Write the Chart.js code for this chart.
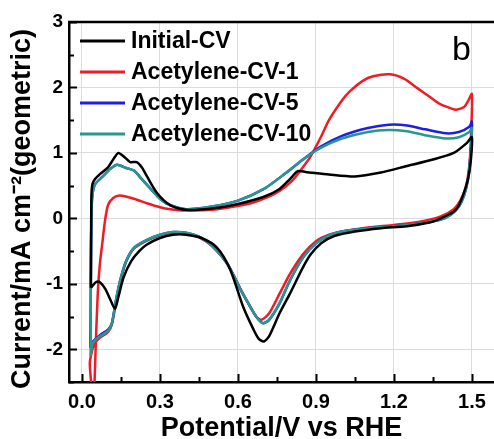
<!DOCTYPE html>
<html>
<head>
<meta charset="utf-8">
<script src="https://cdn.jsdelivr.net/npm/chart.js@4.4.0/dist/chart.umd.min.js"></script>
<style>
  html, body { margin: 0; padding: 0; background: #fff; }
</style>
</head>
<body>
<canvas id="cv" width="494" height="439"></canvas>
<script>
// tick values
const xTicks = [0, 0.15, 0.3, 0.45, 0.6, 0.75, 0.9, 1.05, 1.2, 1.35, 1.5]
const yTicks = [-2.5, -2, -1.5, -1, -0.5, 0, 0.5, 1, 1.5, 2, 2.5, 3]

// Initial-CV (black) - anodic sweep then cathodic sweep
const initV = [0.034, 0.036, 0.04, 0.05, 0.07, 0.1, 0.12, 0.14, 0.165, 0.185, 0.21, 0.23, 0.25, 0.29, 0.34, 0.4, 0.5, 0.6, 0.7, 0.76, 0.8, 0.83, 0.86, 0.95, 1.05, 1.15, 1.25, 1.35, 1.43, 1.48, 1.5,
  1.495, 1.485, 1.47, 1.45, 1.43, 1.38, 1.34, 1.25, 1.15, 1.05, 0.97, 0.92, 0.88, 0.85, 0.8, 0.76, 0.72, 0.7, 0.68, 0.66, 0.62, 0.57, 0.52, 0.46, 0.4, 0.35, 0.3, 0.25, 0.22, 0.19, 0.16, 0.14, 0.127, 0.11, 0.09, 0.07, 0.055, 0.045, 0.034]
const initI = [-1.06, 0.3, 0.52, 0.6, 0.68, 0.78, 0.9, 1.0, 0.93, 0.86, 0.86, 0.78, 0.64, 0.38, 0.2, 0.13, 0.15, 0.22, 0.33, 0.45, 0.6, 0.72, 0.71, 0.67, 0.64, 0.7, 0.8, 0.9, 1.0, 1.15, 1.24,
  0.85, 0.6, 0.4, 0.2, 0.1, 0.0, -0.06, -0.12, -0.15, -0.2, -0.27, -0.38, -0.55, -0.75, -1.15, -1.45, -1.8, -1.88, -1.84, -1.7, -1.35, -0.78, -0.45, -0.3, -0.25, -0.25, -0.3, -0.4, -0.5, -0.65, -0.9, -1.2, -1.38, -1.25, -1.08, -0.98, -0.97, -1.01, -1.06]

// Acetylene-CV-1 (red)
const cv1V = [0.045, 0.05, 0.055, 0.062, 0.07, 0.077, 0.088, 0.1, 0.12, 0.146, 0.2, 0.25, 0.3, 0.34, 0.4, 0.5, 0.57, 0.65, 0.7, 0.76, 0.81, 0.85, 0.88, 0.92, 0.95, 1.0, 1.03, 1.08, 1.12, 1.185, 1.24, 1.29, 1.34, 1.38, 1.42, 1.44, 1.47, 1.485, 1.5,
  1.497, 1.49, 1.475, 1.455, 1.43, 1.38, 1.3, 1.2, 1.1, 1.0, 0.95, 0.9, 0.85, 0.8, 0.76, 0.72, 0.69, 0.67, 0.64, 0.61, 0.56, 0.5, 0.45, 0.4, 0.35, 0.3, 0.25, 0.2, 0.17, 0.15, 0.133, 0.115, 0.1, 0.07, 0.05, 0.04, 0.03, 0.045]
const cv1I = [-2.9, -2.3, -1.7, -1.05, -0.65, -0.42, -0.05, 0.2, 0.31, 0.35, 0.3, 0.23, 0.17, 0.14, 0.12, 0.13, 0.17, 0.23, 0.3, 0.42, 0.58, 0.78, 0.95, 1.25, 1.5, 1.8, 1.94, 2.1, 2.17, 2.2, 2.13, 1.99, 1.85, 1.74, 1.68, 1.66, 1.7, 1.79, 1.9,
  1.3, 0.8, 0.45, 0.27, 0.14, 0.03, -0.05, -0.1, -0.14, -0.2, -0.25, -0.35, -0.55, -0.85, -1.15, -1.45, -1.55, -1.5, -1.3, -1.08, -0.7, -0.42, -0.29, -0.23, -0.22, -0.26, -0.34, -0.46, -0.66, -0.92, -1.22, -1.62, -1.74, -1.82, -1.9, -2.0, -2.22, -2.9]

// Acetylene-CV-5 (blue)
const cv5V = [0.032, 0.034, 0.036, 0.04, 0.05, 0.08, 0.11, 0.135, 0.17, 0.2, 0.23, 0.26, 0.3, 0.34, 0.4, 0.5, 0.6, 0.7, 0.78, 0.85, 0.92, 1.0, 1.1, 1.18, 1.25, 1.32, 1.4, 1.45, 1.49, 1.5,
  1.495, 1.485, 1.47, 1.45, 1.42, 1.38, 1.3, 1.2, 1.1, 1.0, 0.95, 0.9, 0.85, 0.8, 0.76, 0.72, 0.695, 0.67, 0.64, 0.61, 0.56, 0.5, 0.45, 0.4, 0.35, 0.3, 0.25, 0.2, 0.17, 0.15, 0.133, 0.115, 0.1, 0.07, 0.05, 0.04, 0.032]
const cv5I = [-1.98, -1.0, 0.0, 0.35, 0.52, 0.64, 0.76, 0.82, 0.77, 0.73, 0.6, 0.47, 0.3, 0.2, 0.14, 0.18, 0.27, 0.45, 0.68, 0.9, 1.1, 1.26, 1.38, 1.43, 1.42, 1.36, 1.3, 1.32, 1.4, 1.48,
  1.0, 0.6, 0.35, 0.18, 0.06, -0.02, -0.08, -0.12, -0.15, -0.2, -0.26, -0.38, -0.6, -0.95, -1.3, -1.55, -1.6, -1.5, -1.3, -1.09, -0.7, -0.42, -0.28, -0.22, -0.21, -0.25, -0.33, -0.45, -0.65, -0.9, -1.2, -1.6, -1.7, -1.78, -1.85, -1.9, -1.98]

// Acetylene-CV-10 (teal)
const cv10V = [0.033, 0.034, 0.036, 0.04, 0.05, 0.08, 0.11, 0.135, 0.17, 0.2, 0.23, 0.26, 0.3, 0.34, 0.4, 0.5, 0.6, 0.7, 0.78, 0.85, 0.92, 1.0, 1.1, 1.18, 1.25, 1.32, 1.4, 1.45, 1.49, 1.5,
  1.495, 1.485, 1.47, 1.45, 1.42, 1.38, 1.3, 1.2, 1.1, 1.0, 0.95, 0.9, 0.85, 0.8, 0.76, 0.72, 0.695, 0.67, 0.64, 0.61, 0.56, 0.5, 0.45, 0.4, 0.35, 0.3, 0.25, 0.2, 0.17, 0.15, 0.133, 0.115, 0.1, 0.07, 0.05, 0.04, 0.033]
const cv10I = [-2.1, -1.0, 0.0, 0.35, 0.52, 0.64, 0.76, 0.82, 0.77, 0.73, 0.6, 0.47, 0.3, 0.2, 0.14, 0.18, 0.27, 0.45, 0.68, 0.9, 1.08, 1.22, 1.32, 1.35, 1.33, 1.27, 1.22, 1.24, 1.32, 1.38,
  1.0, 0.6, 0.35, 0.18, 0.06, -0.02, -0.08, -0.12, -0.15, -0.2, -0.26, -0.38, -0.6, -0.95, -1.3, -1.55, -1.6, -1.5, -1.3, -1.09, -0.7, -0.42, -0.28, -0.22, -0.21, -0.25, -0.33, -0.45, -0.65, -0.9, -1.2, -1.6, -1.72, -1.8, -1.86, -1.92, -2.1]

const labels = ['Initial-CV', 'Acetylene-CV-1', 'Acetylene-CV-5', 'Acetylene-CV-10']
const colors = ['#000000', '#ee1c24', '#1e1ee6', '#2a9690']
const yTitle = 'Current/mA cm⁻²(geometric)'

const FONT = '"Liberation Sans", Arial, sans-serif'

const toPoints = (vs, is) => vs.map((v, i) => ({x: v, y: is[i]}))

const isMajorX = v => Math.abs(v / 0.3 - Math.round(v / 0.3)) < 1e-6
const isMajorY = v => Math.abs(v - Math.round(v)) < 1e-6

// inward tick marks, top frame line, y title, panel letter and legend
const decorations = {
    id: 'decorations',
    afterDraw(chart) {
        const {ctx, chartArea: a, scales: {x, y}} = chart
        ctx.save()
        ctx.strokeStyle = '#000'
        ctx.lineWidth = 2
        xTicks.forEach(v => {
            const px = Math.round(x.getPixelForValue(v)) + 0.5
            const len = isMajorX(v) ? 8 : 5
            ctx.beginPath()
            ctx.moveTo(px, a.bottom)
            ctx.lineTo(px, a.bottom - len)
            ctx.stroke()
        })
        yTicks.forEach(v => {
            const py = Math.round(y.getPixelForValue(v)) + 0.5
            const len = isMajorY(v) ? 8 : 5
            ctx.beginPath()
            ctx.moveTo(a.left, py)
            ctx.lineTo(a.left + len, py)
            ctx.stroke()
        })
        // top frame
        ctx.lineWidth = 2.5
        ctx.beginPath()
        ctx.moveTo(a.left - 1, a.top)
        ctx.lineTo(chart.width, a.top)
        ctx.stroke()

        ctx.fillStyle = '#000'

        // y axis title
        ctx.save()
        ctx.translate(23, 209)
        ctx.rotate(-Math.PI / 2)
        ctx.font = 'bold 27px ' + FONT
        ctx.textAlign = 'center'
        ctx.textBaseline = 'middle'
        ctx.fillText(yTitle, 0, 0)
        ctx.restore()

        // panel letter
        ctx.font = '34px ' + FONT
        ctx.textBaseline = 'alphabetic'
        ctx.textAlign = 'left'
        ctx.fillText('b', 452, 60)

        // legend
        ctx.font = 'bold 23px ' + FONT
        ctx.textBaseline = 'middle'
        chart.data.datasets.forEach((ds, i) => {
            const ly = 41 + i * 31
            ctx.strokeStyle = ds.borderColor
            ctx.lineWidth = 3
            ctx.beginPath()
            ctx.moveTo(80, ly)
            ctx.lineTo(125, ly)
            ctx.stroke()
            ctx.fillStyle = '#000'
            ctx.fillText(ds.label, 131, ly + 1)
        })
        ctx.restore()
    }
}

new Chart(document.getElementById('cv'), {
    type: 'scatter',
    data: {
        datasets: [
            {label: labels[0], data: toPoints(initV, initI), borderColor: colors[0], order: 0},
            {label: labels[1], data: toPoints(cv1V, cv1I), borderColor: colors[1], order: 3},
            {label: labels[2], data: toPoints(cv5V, cv5I), borderColor: colors[2], order: 2},
            {label: labels[3], data: toPoints(cv10V, cv10I), borderColor: colors[3], order: 1}
        ].map(ds => Object.assign(ds, {showLine: true, pointRadius: 0, borderWidth: 2.5, tension: 0.25, fill: false}))
    },
    options: {
        responsive: false,
        animation: false,
        layout: {padding: {top: 22, right: 0, bottom: 0, left: 0}},
        plugins: {
            legend: {display: false},
            tooltip: {enabled: false}
        },
        scales: {
            x: {
                type: 'linear',
                min: -0.05,
                max: 1.585,
                afterBuildTicks: s => { s.ticks = xTicks.map(v => ({value: v})) },
                afterFit: s => { s.height = 57 },
                ticks: {
                    padding: 8,
                    color: '#000',
                    font: {family: FONT, size: 20, weight: 'bold'},
                    callback: v => isMajorX(v) ? v.toFixed(1) : ''
                },
                grid: {
                    drawTicks: false,
                    lineWidth: 1,
                    color: c => (c.tick && isMajorX(c.tick.value)) ? '#dcdcdc' : 'rgba(0,0,0,0)'
                },
                border: {color: '#000', width: 2.5},
                title: {
                    display: true,
                    text: 'Potential/V vs RHE',
                    color: '#000',
                    font: {family: FONT, size: 27, weight: 'bold', lineHeight: 0.75},
                    padding: {top: 0, bottom: 0}
                }
            },
            y: {
                min: -2.5,
                max: 3,
                afterBuildTicks: s => { s.ticks = yTicks.map(v => ({value: v})) },
                afterFit: s => { s.width = 69 },
                ticks: {
                    padding: 6,
                    color: '#000',
                    font: {family: FONT, size: 19, weight: 'bold'},
                    callback: v => isMajorY(v) ? String(Math.round(v)) : ''
                },
                grid: {
                    drawTicks: false,
                    lineWidth: 1,
                    color: c => (c.tick && isMajorY(c.tick.value) && c.tick.value < 3) ? '#dcdcdc' : 'rgba(0,0,0,0)'
                },
                border: {color: '#000', width: 2.5},
                title: {display: false}
            }
        }
    },
    plugins: [decorations]
})
</script>
</body>
</html>
